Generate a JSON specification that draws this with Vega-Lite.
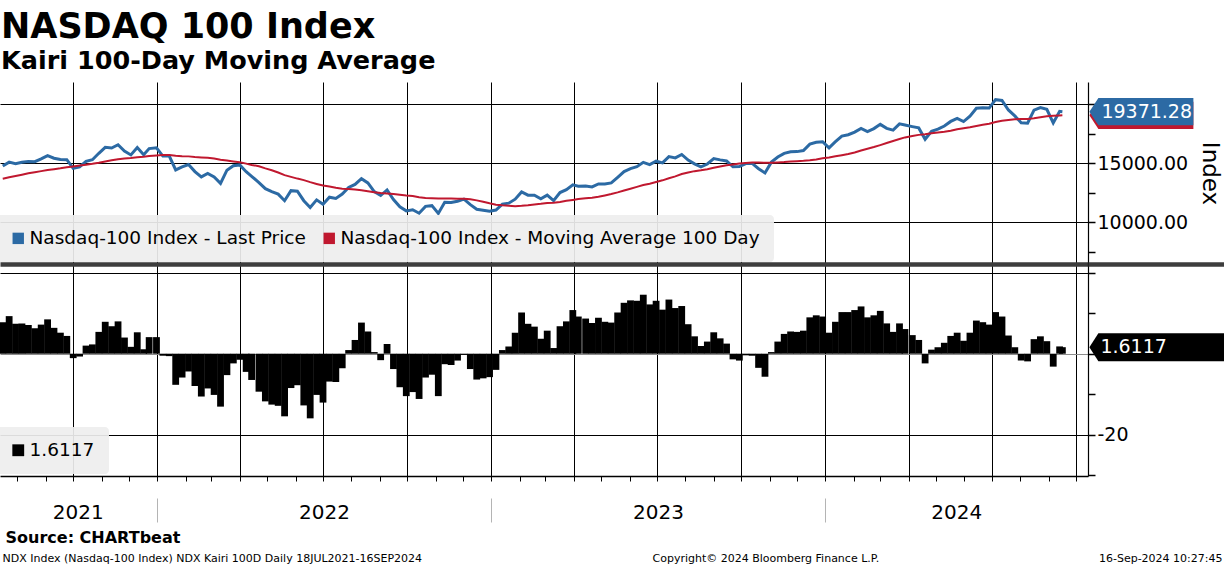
{
  "$schema": "https://vega.github.io/schema/vega-lite/v6.json",
  "width": 1088,
  "height": 394,
  "autosize": {"type": "none"},
  "padding": {"left": 0, "top": 82, "right": 136, "bottom": 90},
  "background": "white",
  "config": {
    "font": "DejaVu Sans",
    "view": {"stroke": null},
    "axis": {"labelFont": "DejaVu Sans", "titleFont": "DejaVu Sans", "labelColor": "black", "titleColor": "black", "titleFontWeight": "normal", "tickColor": "black", "domainColor": "black"},
    "legend": {"labelFont": "DejaVu Sans", "labelColor": "black"}
  },
  "title": {
    "text": "NASDAQ 100 Index",
    "subtitle": "Kairi 100-Day Moving Average",
    "anchor": "start",
    "frame": "group",
    "fontSize": 35,
    "fontWeight": "bold",
    "subtitleFontSize": 25.5,
    "subtitleFontWeight": "bold",
    "subtitleFont": "DejaVu Sans",
    "color": "black",
    "subtitleColor": "black",
    "subtitlePadding": 4,
    "offset": 8,
    "dx": 1
  },
  "data": {"values": [
    {"date": "2021-07-16", "price": 14770, "ma": 13698, "kairi": 7.8},
    {"date": "2021-07-23", "price": 15100, "ma": 13819, "kairi": 9.3},
    {"date": "2021-07-30", "price": 14960, "ma": 13924, "kairi": 7.4},
    {"date": "2021-08-06", "price": 15090, "ma": 14036, "kairi": 7.5},
    {"date": "2021-08-13", "price": 15150, "ma": 14151, "kairi": 7.1},
    {"date": "2021-08-20", "price": 15140, "ma": 14248, "kairi": 6.3},
    {"date": "2021-08-27", "price": 15370, "ma": 14337, "kairi": 7.2},
    {"date": "2021-09-03", "price": 15650, "ma": 14424, "kairi": 8.5},
    {"date": "2021-09-10", "price": 15430, "ma": 14505, "kairi": 6.4},
    {"date": "2021-09-17", "price": 15330, "ma": 14578, "kairi": 5.2},
    {"date": "2021-09-24", "price": 15310, "ma": 14671, "kairi": 4.4},
    {"date": "2021-10-01", "price": 14570, "ma": 14737, "kairi": -1.1},
    {"date": "2021-10-08", "price": 14700, "ma": 14806, "kairi": -0.7},
    {"date": "2021-10-15", "price": 15170, "ma": 14880, "kairi": 2.0},
    {"date": "2021-10-22", "price": 15300, "ma": 14955, "kairi": 2.3},
    {"date": "2021-10-29", "price": 15850, "ma": 15044, "kairi": 5.4},
    {"date": "2021-11-05", "price": 16350, "ma": 15154, "kairi": 7.9},
    {"date": "2021-11-12", "price": 16290, "ma": 15251, "kairi": 6.8},
    {"date": "2021-11-19", "price": 16570, "ma": 15347, "kairi": 8.0},
    {"date": "2021-11-26", "price": 16030, "ma": 15407, "kairi": 4.0},
    {"date": "2021-12-03", "price": 15710, "ma": 15454, "kairi": 1.7},
    {"date": "2021-12-10", "price": 16340, "ma": 15516, "kairi": 5.3},
    {"date": "2021-12-17", "price": 15720, "ma": 15554, "kairi": 1.1},
    {"date": "2021-12-23", "price": 16250, "ma": 15612, "kairi": 4.1},
    {"date": "2021-12-31", "price": 16320, "ma": 15670, "kairi": 4.1},
    {"date": "2022-01-07", "price": 15610, "ma": 15694, "kairi": -0.5},
    {"date": "2022-01-14", "price": 15610, "ma": 15706, "kairi": -0.6},
    {"date": "2022-01-21", "price": 14440, "ma": 15645, "kairi": -7.7},
    {"date": "2022-01-28", "price": 14690, "ma": 15608, "kairi": -5.9},
    {"date": "2022-02-04", "price": 14900, "ma": 15587, "kairi": -4.4},
    {"date": "2022-02-11", "price": 14300, "ma": 15536, "kairi": -8.0},
    {"date": "2022-02-18", "price": 13850, "ma": 15500, "kairi": -10.6},
    {"date": "2022-02-25", "price": 14140, "ma": 15472, "kairi": -8.6},
    {"date": "2022-03-04", "price": 13840, "ma": 15406, "kairi": -10.2},
    {"date": "2022-03-11", "price": 13300, "ma": 15306, "kairi": -13.1},
    {"date": "2022-03-18", "price": 14420, "ma": 15234, "kairi": -5.3},
    {"date": "2022-03-25", "price": 14790, "ma": 15156, "kairi": -2.4},
    {"date": "2022-04-01", "price": 14860, "ma": 15085, "kairi": -1.5},
    {"date": "2022-04-08", "price": 14290, "ma": 14971, "kairi": -4.5},
    {"date": "2022-04-14", "price": 13900, "ma": 14864, "kairi": -6.5},
    {"date": "2022-04-22", "price": 13360, "ma": 14747, "kairi": -9.4},
    {"date": "2022-04-29", "price": 12850, "ma": 14572, "kairi": -11.8},
    {"date": "2022-05-06", "price": 12600, "ma": 14416, "kairi": -12.6},
    {"date": "2022-05-13", "price": 12390, "ma": 14223, "kairi": -12.9},
    {"date": "2022-05-20", "price": 11830, "ma": 13999, "kairi": -15.5},
    {"date": "2022-05-27", "price": 12680, "ma": 13852, "kairi": -8.5},
    {"date": "2022-06-03", "price": 12640, "ma": 13704, "kairi": -7.8},
    {"date": "2022-06-10", "price": 11830, "ma": 13573, "kairi": -12.8},
    {"date": "2022-06-17", "price": 11260, "ma": 13402, "kairi": -16.0},
    {"date": "2022-06-24", "price": 11900, "ma": 13252, "kairi": -10.2},
    {"date": "2022-07-01", "price": 11530, "ma": 13113, "kairi": -12.1},
    {"date": "2022-07-08", "price": 12130, "ma": 13027, "kairi": -6.9},
    {"date": "2022-07-15", "price": 12020, "ma": 12921, "kairi": -7.0},
    {"date": "2022-07-22", "price": 12390, "ma": 12849, "kairi": -3.6},
    {"date": "2022-07-29", "price": 12950, "ma": 12831, "kairi": 0.9},
    {"date": "2022-08-05", "price": 13210, "ma": 12771, "kairi": 3.4},
    {"date": "2022-08-12", "price": 13700, "ma": 12716, "kairi": 7.7},
    {"date": "2022-08-19", "price": 13340, "ma": 12640, "kairi": 5.5},
    {"date": "2022-08-26", "price": 12600, "ma": 12556, "kairi": 0.4},
    {"date": "2022-09-02", "price": 12270, "ma": 12474, "kairi": -1.6},
    {"date": "2022-09-09", "price": 12740, "ma": 12443, "kairi": 2.4},
    {"date": "2022-09-16", "price": 11930, "ma": 12397, "kairi": -3.8},
    {"date": "2022-09-23", "price": 11310, "ma": 12333, "kairi": -8.3},
    {"date": "2022-09-30", "price": 10970, "ma": 12262, "kairi": -10.5},
    {"date": "2022-10-07", "price": 11060, "ma": 12223, "kairi": -9.5},
    {"date": "2022-10-14", "price": 10770, "ma": 12128, "kairi": -11.2},
    {"date": "2022-10-21", "price": 11350, "ma": 12063, "kairi": -5.9},
    {"date": "2022-10-28", "price": 11410, "ma": 12042, "kairi": -5.2},
    {"date": "2022-11-04", "price": 10750, "ma": 12017, "kairi": -10.5},
    {"date": "2022-11-11", "price": 11700, "ma": 12007, "kairi": -2.6},
    {"date": "2022-11-18", "price": 11680, "ma": 12014, "kairi": -2.8},
    {"date": "2022-11-25", "price": 11790, "ma": 11997, "kairi": -1.7},
    {"date": "2022-12-02", "price": 11960, "ma": 11994, "kairi": -0.3},
    {"date": "2022-12-09", "price": 11500, "ma": 11950, "kairi": -3.8},
    {"date": "2022-12-16", "price": 11100, "ma": 11857, "kairi": -6.4},
    {"date": "2022-12-23", "price": 11030, "ma": 11748, "kairi": -6.1},
    {"date": "2022-12-30", "price": 10940, "ma": 11610, "kairi": -5.8},
    {"date": "2023-01-06", "price": 11040, "ma": 11495, "kairi": -4.0},
    {"date": "2023-01-13", "price": 11540, "ma": 11442, "kairi": 0.9},
    {"date": "2023-01-20", "price": 11620, "ma": 11410, "kairi": 1.8},
    {"date": "2023-01-27", "price": 11960, "ma": 11371, "kairi": 5.2},
    {"date": "2023-02-03", "price": 12570, "ma": 11403, "kairi": 10.2},
    {"date": "2023-02-10", "price": 12300, "ma": 11452, "kairi": 7.4},
    {"date": "2023-02-17", "price": 12290, "ma": 11518, "kairi": 6.7},
    {"date": "2023-02-24", "price": 11990, "ma": 11565, "kairi": 3.7},
    {"date": "2023-03-03", "price": 12300, "ma": 11641, "kairi": 5.7},
    {"date": "2023-03-10", "price": 11830, "ma": 11665, "kairi": 1.4},
    {"date": "2023-03-17", "price": 12520, "ma": 11721, "kairi": 6.8},
    {"date": "2023-03-24", "price": 12770, "ma": 11822, "kairi": 8.0},
    {"date": "2023-03-31", "price": 13180, "ma": 11896, "kairi": 10.8},
    {"date": "2023-04-06", "price": 13060, "ma": 11965, "kairi": 9.2},
    {"date": "2023-04-14", "price": 13080, "ma": 12029, "kairi": 8.7},
    {"date": "2023-04-21", "price": 13000, "ma": 12081, "kairi": 7.6},
    {"date": "2023-04-28", "price": 13250, "ma": 12169, "kairi": 8.9},
    {"date": "2023-05-05", "price": 13240, "ma": 12276, "kairi": 7.9},
    {"date": "2023-05-12", "price": 13340, "ma": 12391, "kairi": 7.7},
    {"date": "2023-05-19", "price": 13810, "ma": 12535, "kairi": 10.2},
    {"date": "2023-05-26", "price": 14300, "ma": 12698, "kairi": 12.6},
    {"date": "2023-06-02", "price": 14550, "ma": 12848, "kairi": 13.2},
    {"date": "2023-06-09", "price": 14710, "ma": 13003, "kairi": 13.1},
    {"date": "2023-06-16", "price": 15080, "ma": 13159, "kairi": 14.6},
    {"date": "2023-06-23", "price": 14890, "ma": 13275, "kairi": 12.2},
    {"date": "2023-06-30", "price": 15180, "ma": 13419, "kairi": 13.1},
    {"date": "2023-07-07", "price": 15040, "ma": 13556, "kairi": 10.9},
    {"date": "2023-07-14", "price": 15570, "ma": 13735, "kairi": 13.4},
    {"date": "2023-07-21", "price": 15460, "ma": 13893, "kairi": 11.3},
    {"date": "2023-07-28", "price": 15750, "ma": 14089, "kairi": 11.8},
    {"date": "2023-08-04", "price": 15270, "ma": 14227, "kairi": 7.3},
    {"date": "2023-08-11", "price": 14950, "ma": 14336, "kairi": 4.3},
    {"date": "2023-08-18", "price": 14690, "ma": 14411, "kairi": 1.9},
    {"date": "2023-08-25", "price": 14940, "ma": 14505, "kairi": 3.0},
    {"date": "2023-09-01", "price": 15400, "ma": 14621, "kairi": 5.3},
    {"date": "2023-09-08", "price": 15290, "ma": 14736, "kairi": 3.8},
    {"date": "2023-09-15", "price": 15200, "ma": 14833, "kairi": 2.5},
    {"date": "2023-09-22", "price": 14700, "ma": 14906, "kairi": -1.4},
    {"date": "2023-09-29", "price": 14720, "ma": 14975, "kairi": -1.7},
    {"date": "2023-10-06", "price": 14980, "ma": 15034, "kairi": -0.4},
    {"date": "2023-10-13", "price": 14990, "ma": 15068, "kairi": -0.5},
    {"date": "2023-10-20", "price": 14540, "ma": 15068, "kairi": -3.5},
    {"date": "2023-10-27", "price": 14180, "ma": 15041, "kairi": -5.7},
    {"date": "2023-11-03", "price": 15100, "ma": 15042, "kairi": 0.4},
    {"date": "2023-11-10", "price": 15530, "ma": 15074, "kairi": 3.0},
    {"date": "2023-11-17", "price": 15840, "ma": 15107, "kairi": 4.9},
    {"date": "2023-11-24", "price": 15980, "ma": 15154, "kairi": 5.5},
    {"date": "2023-12-01", "price": 15990, "ma": 15175, "kairi": 5.4},
    {"date": "2023-12-08", "price": 16080, "ma": 15206, "kairi": 5.7},
    {"date": "2023-12-15", "price": 16620, "ma": 15250, "kairi": 9.0},
    {"date": "2023-12-22", "price": 16780, "ma": 15325, "kairi": 9.5},
    {"date": "2023-12-29", "price": 16830, "ma": 15419, "kairi": 9.2},
    {"date": "2024-01-05", "price": 16310, "ma": 15500, "kairi": 5.2},
    {"date": "2024-01-12", "price": 16830, "ma": 15595, "kairi": 7.9},
    {"date": "2024-01-19", "price": 17310, "ma": 15690, "kairi": 10.3},
    {"date": "2024-01-26", "price": 17420, "ma": 15797, "kairi": 10.3},
    {"date": "2024-02-02", "price": 17640, "ma": 15919, "kairi": 10.8},
    {"date": "2024-02-09", "price": 17960, "ma": 16082, "kairi": 11.7},
    {"date": "2024-02-16", "price": 17690, "ma": 16230, "kairi": 9.0},
    {"date": "2024-02-23", "price": 17940, "ma": 16378, "kairi": 9.5},
    {"date": "2024-03-01", "price": 18300, "ma": 16544, "kairi": 10.6},
    {"date": "2024-03-08", "price": 17960, "ma": 16715, "kairi": 7.5},
    {"date": "2024-03-15", "price": 17810, "ma": 16896, "kairi": 5.4},
    {"date": "2024-03-22", "price": 18340, "ma": 17058, "kairi": 7.5},
    {"date": "2024-03-28", "price": 18250, "ma": 17194, "kairi": 6.1},
    {"date": "2024-04-05", "price": 18110, "ma": 17308, "kairi": 4.6},
    {"date": "2024-04-12", "price": 18000, "ma": 17409, "kairi": 3.4},
    {"date": "2024-04-19", "price": 17040, "ma": 17461, "kairi": -2.4},
    {"date": "2024-04-26", "price": 17720, "ma": 17543, "kairi": 1.0},
    {"date": "2024-05-03", "price": 17890, "ma": 17607, "kairi": 1.6},
    {"date": "2024-05-10", "price": 18160, "ma": 17676, "kairi": 2.7},
    {"date": "2024-05-17", "price": 18550, "ma": 17762, "kairi": 4.4},
    {"date": "2024-05-24", "price": 18810, "ma": 17887, "kairi": 5.2},
    {"date": "2024-05-31", "price": 18540, "ma": 17972, "kairi": 3.2},
    {"date": "2024-06-07", "price": 19000, "ma": 18057, "kairi": 5.2},
    {"date": "2024-06-14", "price": 19660, "ma": 18169, "kairi": 8.2},
    {"date": "2024-06-21", "price": 19700, "ma": 18272, "kairi": 7.8},
    {"date": "2024-06-28", "price": 19680, "ma": 18358, "kairi": 7.2},
    {"date": "2024-07-05", "price": 20390, "ma": 18493, "kairi": 10.3},
    {"date": "2024-07-12", "price": 20330, "ma": 18612, "kairi": 9.2},
    {"date": "2024-07-19", "price": 19520, "ma": 18673, "kairi": 4.5},
    {"date": "2024-07-26", "price": 19020, "ma": 18726, "kairi": 1.6},
    {"date": "2024-08-02", "price": 18440, "ma": 18758, "kairi": -1.7},
    {"date": "2024-08-09", "price": 18400, "ma": 18761, "kairi": -1.9},
    {"date": "2024-08-16", "price": 19510, "ma": 18824, "kairi": 3.6},
    {"date": "2024-08-23", "price": 19720, "ma": 18904, "kairi": 4.3},
    {"date": "2024-08-30", "price": 19570, "ma": 18983, "kairi": 3.1},
    {"date": "2024-09-06", "price": 18420, "ma": 19020, "kairi": -3.2},
    {"date": "2024-09-13", "price": 19400, "ma": 19050, "kairi": 1.8},
    {"date": "2024-09-16", "price": 19371.28, "ma": 19064, "kairi": 1.6117}
  ]},
  "layer": [
    {
      "encoding": {
        "x": {
          "field": "date", "type": "temporal",
          "scale": {"type": "utc", "padding": 0, "domain": [{"year": 2021, "month": 7, "date": 13, "utc": true}, {"year": 2024, "month": 10, "date": 14, "utc": true}]},
          "axis": {
            "orient": "bottom",
            "tickCount": {"interval": "month", "step": 1},
            "grid": true,
            "gridColor": "black",
            "gridOpacity": {"condition": {"test": "utcmonth(datum.value) % 3 == 0", "value": 1}, "value": 0},
            "tickSize": 5,
            "labels": false,
            "domain": true,
            "domainWidth": 1.5,
            "title": "Source: CHARTbeat",
            "titleX": 5, "titleY": 66,
            "titleAlign": "left", "titleBaseline": "alphabetic",
            "titleFontSize": 16, "titleFontWeight": "bold"
          }
        }
      },
      "layer": [
        {
          "mark": {"type": "line", "color": "#2c6aa4", "strokeWidth": 3},
          "encoding": {
            "y": {
              "field": "price", "type": "quantitative",
              "scale": {"domain": [-11500, 21890], "nice": false, "zero": false},
              "axis": {
                "orient": "right",
                "values": [7500, 10000, 12500, 15000, 17500, 20000],
                "grid": true,
                "gridColor": "black",
                "gridOpacity": {"condition": {"test": "datum.value % 5000 == 0", "value": 1}, "value": 0},
                "tickSize": 7,
                "tickWidth": 1.5,
                "labelExpr": "datum.value == 10000 || datum.value == 15000 ? format(datum.value, '.2f') : ''",
                "labelFontSize": 19,
                "labelPadding": 2,
                "labelBaseline": "middle",
                "domain": true,
                "domainWidth": 1.2,
                "title": "Index",
                "titleAngle": 90,
                "titleFontSize": 23,
                "titleX": 121, "titleY": 91,
                "titleAlign": "center", "titleBaseline": "middle"
              }
            }
          }
        },
        {
          "mark": {"type": "line", "color": "#c0182f", "strokeWidth": 2},
          "encoding": {"y": {"field": "ma", "type": "quantitative"}}
        },
        {
          "transform": [{"filter": "datum.price == 19371.28"}, {"fold": ["ma", "price"], "as": ["series", "val"]}],
          "mark": {"type": "point", "filled": true, "opacity": 1, "size": 40000, "strokeWidth": 0,
                   "shape": "M0.27,0L0.36,-0.136L1.31,-0.136L1.31,0.136L0.36,0.136Z"},
          "encoding": {
            "y": {"field": "val", "type": "quantitative"},
            "fill": {
              "field": "series", "type": "nominal",
              "scale": {"domain": ["price", "ma"], "range": ["#2c6aa4", "#c0182f"]},
              "legend": {
                "orient": "none", "legendX": -5, "legendY": 133,
                "direction": "horizontal", "title": null,
                "symbolType": "square", "symbolSize": 130, "symbolStrokeWidth": 0,
                "labelFontSize": 18.5, "labelLimit": 600, "labelOffset": 2,
                "columnPadding": 14, "padding": 14,
                "fillColor": "rgba(238,238,238,0.92)", "cornerRadius": 4,
                "labelExpr": "datum.value == 'price' ? 'Nasdaq-100 Index - Last Price' : 'Nasdaq-100 Index - Moving Average 100 Day'"
              }
            }
          }
        },
        {
          "transform": [{"filter": "datum.price == 19371.28"}],
          "mark": {"type": "text", "align": "left", "baseline": "middle", "dx": 39, "fontSize": 19, "color": "white"},
          "encoding": {
            "y": {"field": "price", "type": "quantitative"},
            "text": {"field": "price", "format": ".2f"}
          }
        }
      ]
    },
    {
      "encoding": {
        "x": {
          "field": "date", "type": "temporal",
          "scale": {"type": "utc", "padding": 0},
          "axis": {
            "orient": "bottom",
            "values": [
              {"year": 2021, "month": 10, "date": 6, "utc": true},
              {"year": 2022, "month": 7, "date": 2, "utc": true},
              {"year": 2023, "month": 7, "date": 2, "utc": true},
              {"year": 2024, "month": 5, "date": 23, "utc": true}
            ],
            "format": "%Y",
            "ticks": false, "tickSize": 0,
            "domain": false, "grid": false,
            "labelFontSize": 20, "labelPadding": 26,
            "labelFlush": false, "labelOverlap": false,
            "title": "NDX Index (Nasdaq-100 Index) NDX Kairi 100D  Daily 18JUL2021-16SEP2024",
            "titleX": 2, "titleY": 85,
            "titleAlign": "left", "titleBaseline": "alphabetic",
            "titleFontSize": 11
          }
        }
      },
      "layer": [
        {
          "mark": {"type": "bar", "width": 6.8},
          "encoding": {
            "y": {
              "field": "kairi", "type": "quantitative",
              "scale": {"domain": [-30.27, 67.25], "nice": false, "zero": false},
              "axis": {
                "orient": "right",
                "values": [-30, -20, -10, 0, 10, 20],
                "grid": true,
                "gridColor": {"condition": {"test": "datum.value == 0", "value": "#8c8c8c"}, "value": "black"},
                "gridOpacity": {"condition": {"test": "datum.value == 0 || datum.value == 20 || datum.value == -20", "value": 1}, "value": 0},
                "tickSize": 7,
                "tickWidth": 1.5,
                "labelExpr": "datum.value == -20 ? '-20' : ''",
                "labelFontSize": 19,
                "labelPadding": 2,
                "labelBaseline": "middle",
                "domain": false,
                "title": "16-Sep-2024 10:27:45",
                "titleAngle": 0,
                "titleX": 134, "titleY": 479,
                "titleAlign": "right", "titleBaseline": "alphabetic",
                "titleFontSize": 11
              }
            },
            "color": {
              "datum": "1.6117", "type": "nominal",
              "scale": {"range": ["#000000"]},
              "legend": {
                "orient": "none", "legendX": -5, "legendY": 345,
                "title": null,
                "symbolType": "square", "symbolSize": 140, "symbolStrokeWidth": 0,
                "labelFontSize": 18.5, "labelOffset": 2, "padding": 14,
                "fillColor": "rgba(238,238,238,0.92)", "cornerRadius": 4
              }
            }
          }
        }
      ]
    },
    {
      "transform": [{"filter": "datum.price == 19371.28"}],
      "encoding": {
        "x": {
          "field": "date", "type": "temporal",
          "scale": {"type": "utc", "padding": 0},
          "axis": {
            "orient": "bottom",
            "values": [
              {"year": 2022, "month": 1, "date": 1, "utc": true},
              {"year": 2023, "month": 1, "date": 1, "utc": true},
              {"year": 2024, "month": 1, "date": 1, "utc": true}
            ],
            "tickSize": 24, "offset": 22, "tickColor": "#b4b4b4",
            "labels": false, "domain": false, "grid": false,
            "title": "Copyright© 2024 Bloomberg Finance L.P.",
            "titleX": 652, "titleY": 63,
            "titleAlign": "left", "titleBaseline": "alphabetic",
            "titleFontSize": 11
          }
        },
        "y": {
          "field": "kairi", "type": "quantitative",
          "scale": {"domain": [-30.27, 67.25], "nice": false, "zero": false},
          "axis": {
            "orient": "right",
            "values": [22.08],
            "tickSize": 136, "tickWidth": 4.5, "tickColor": "#3d3d3d",
            "grid": true, "gridColor": "#3d3d3d", "gridWidth": 4.5,
            "labels": false, "domain": false, "title": null
          }
        }
      },
      "layer": [
        {
          "mark": {"type": "point", "filled": true, "opacity": 1, "size": 40000, "strokeWidth": 0, "color": "black",
                   "shape": "M0.27,0L0.36,-0.14L1.7,-0.14L1.7,0.14L0.36,0.14Z"}
        },
        {
          "mark": {"type": "text", "align": "left", "baseline": "middle", "dx": 38, "fontSize": 19, "color": "white"},
          "encoding": {"text": {"field": "kairi", "format": ".4f"}}
        }
      ]
    }
  ],
  "resolve": {"scale": {"y": "independent"}, "axis": {"x": "independent", "y": "independent"}}
}
